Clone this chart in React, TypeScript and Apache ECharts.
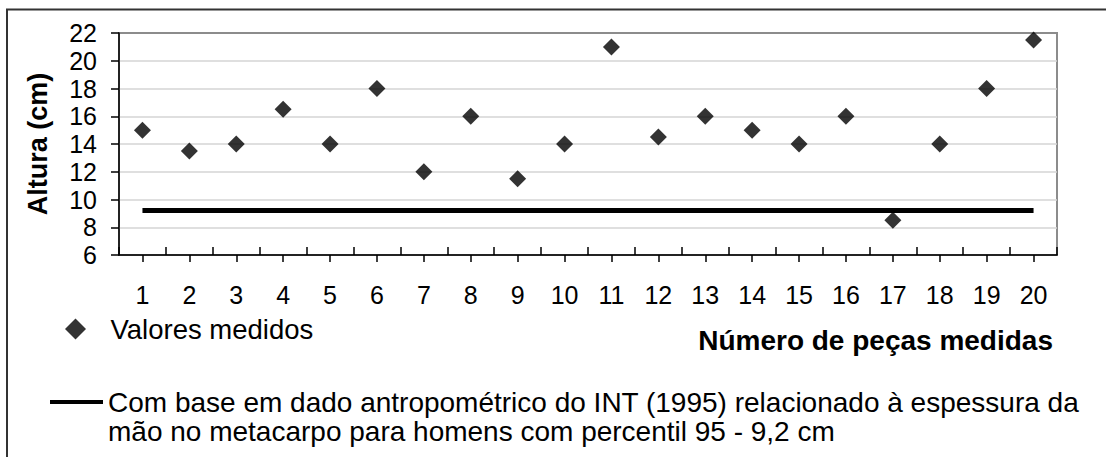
import React, { useEffect, useRef } from "react";
import * as echarts from "echarts";

const categories = ["1","2","3","4","5","6","7","8","9","10","11","12","13","14","15","16","17","18","19","20"];
const measured = [15, 13.5, 14, 16.5, 14, 18, 12, 16, 11.5, 14, 21, 14.5, 16, 15, 14, 16, 8.5, 14, 18, 21.5];
const reference = [9.2, 9.2, 9.2, 9.2, 9.2, 9.2, 9.2, 9.2, 9.2, 9.2, 9.2, 9.2, 9.2, 9.2, 9.2, 9.2, 9.2, 9.2, 9.2, 9.2];
const measuredName = "Valores medidos";
const refLine1 = "Com base em dado antropométrico do INT (1995) relacionado à espessura da";
const refLine2 = "mão no metacarpo para homens com percentil 95 - 9,2 cm";
const refName = refLine1 + " " + refLine2;
const yName = "Altura (cm)";
const xName = "Número de peças medidas";

const FONT = "'Liberation Sans', Arial, sans-serif";

export default function App() {
  const ref = useRef<HTMLDivElement>(null);
  useEffect(() => {
    const chart = echarts.init(ref.current!, null, { renderer: "svg" });
    chart.setOption({
      animation: false,
      backgroundColor: "#ffffff",
      textStyle: { fontFamily: FONT, color: "#000" },
      grid: {
        left: 119, top: 33, width: 938, height: 222,
        show: true, borderColor: "#8c8c8c", borderWidth: 2, backgroundColor: "transparent",
      },
      xAxis: [
        {
          type: "category", data: categories, boundaryGap: true, position: "bottom",
          axisLine: { show: true, lineStyle: { color: "#000", width: 1.5 } },
          axisTick: { show: true, inside: true, length: 8, alignWithLabel: false, lineStyle: { color: "#000", width: 1.5 } },
          axisLabel: { show: true, margin: 27, fontSize: 25, color: "#000", fontFamily: FONT, interval: 0 },
          splitLine: { show: false },
        },
        {
          type: "category", data: categories, boundaryGap: true, position: "bottom",
          axisLine: { show: false },
          axisTick: { show: true, inside: false, length: 7, alignWithLabel: true, interval: 0, lineStyle: { color: "#000", width: 1.5 } },
          axisLabel: { show: false },
          splitLine: { show: false },
        },
      ],
      yAxis: {
        type: "value", min: 6, max: 22, interval: 2,
        name: yName, nameLocation: "middle", nameGap: 68, nameRotate: 90,
        nameTextStyle: { fontSize: 27, fontWeight: "bold", color: "#000", fontFamily: FONT },
        axisLine: { show: true, lineStyle: { color: "#000", width: 1.5 } },
        axisTick: { show: true, inside: false, length: 8, lineStyle: { color: "#000", width: 1.5 } },
        axisLabel: { margin: 22, fontSize: 25, color: "#000", fontFamily: FONT },
        splitLine: { show: true, showMaxLine: false, showMinLine: false, lineStyle: { color: "#d4d4d4", width: 1.5 } },
      },
      legend: [
        {
          data: [measuredName],
          left: 65, top: 315, padding: 0,
          itemWidth: 60, itemHeight: 21,
          icon: "path://M0,-1L1,0L0,1L-1,0Z",
          textStyle: { fontSize: 27.5, color: "#000", fontFamily: FONT },
          selectedMode: false,
        },
        {
          data: [refName],
          left: 50, top: 388, padding: 0,
          itemWidth: 53, itemHeight: 4,
          icon: "rect",
          formatter: () => refLine1,
          textStyle: { fontSize: 28, color: "#000", fontFamily: FONT },
          itemStyle: { color: "#000" },
          selectedMode: false,
        },
      ],
      graphic: [
        {
          type: "rect", silent: true, z: 100,
          shape: { x: 7, y: 9.5, width: 1300, height: 700 },
          style: { fill: "none", stroke: "#333", lineWidth: 2 },
        },
        {
          type: "text", x: 1053, y: 340,
          style: { text: xName, fontSize: 28, fontWeight: "bold", fill: "#000", fontFamily: FONT, align: "right", verticalAlign: "middle" },
        },
        {
          type: "text", x: 108, y: 431,
          style: { text: refLine2, fontSize: 28, fill: "#000", fontFamily: FONT, align: "left", verticalAlign: "middle" },
        },
      ],
      series: [
        {
          name: refName, type: "line", data: reference, xAxisIndex: 0,
          symbol: "none", lineStyle: { color: "#000", width: 5 }, itemStyle: { color: "#000" },
          z: 2,
        },
        {
          name: measuredName, type: "scatter", data: measured, xAxisIndex: 0,
          symbol: "diamond", symbolSize: 17, itemStyle: { color: "#000" },
          z: 3,
        },
      ],
    });
    return () => chart.dispose();
  }, []);
  return <div ref={ref} style={{ position: "absolute", left: 0, top: 0, width: 1106, height: 457 }} />;
}
